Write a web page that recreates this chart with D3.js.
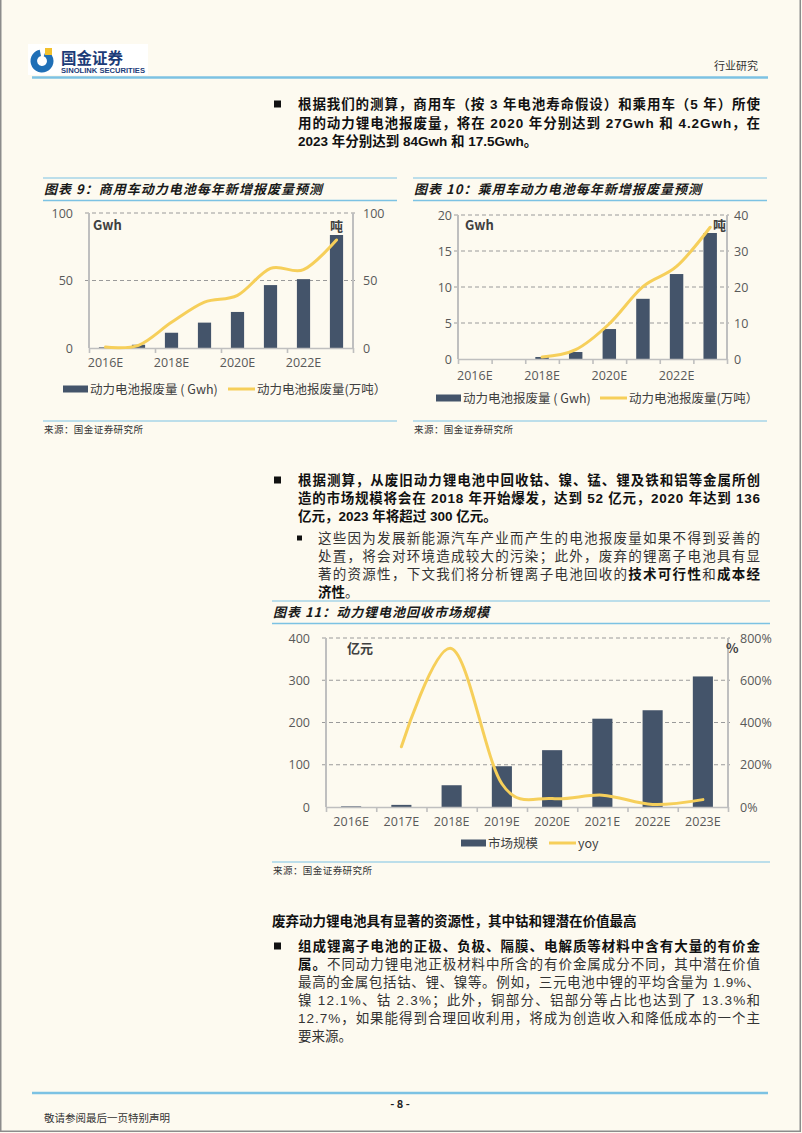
<!DOCTYPE html>
<html>
<head>
<meta charset="utf-8">
<script src="https://cdn.jsdelivr.net/npm/d3@7"></script>
<style>
  body { margin: 0; background: #fdfaf0; }
  svg text { font-family: "Noto Sans CJK SC", "Liberation Sans", sans-serif; }
</style>
</head>
<body>
<svg id="page" width="802" height="1133"></svg>
<script>
// chart data
var years = ["2016E", "2017E", "2018E", "2019E", "2020E", "2021E", "2022E", "2023E"];

// 图表9 商用车
var cvGwh = [0.5, 2.4, 11.3, 18.8, 26.7, 46.6, 51, 83.7];
var cvTonnes = [0.7, 2, 19, 34, 39, 59, 58, 80];
var cvLeftTicks = [0, 50, 100];
var cvRightTicks = [0, 50, 100];

// 图表10 乘用车
var pvGwh = [0, 0, 0.28, 0.97, 4.16, 8.36, 11.8, 17.5];
var pvTonnes = [null, null, 0.55, 2.6, 9.8, 20.1, 25.7, 36.6];
var pvLeftTicks = [0, 5, 10, 15, 20];
var pvRightTicks = [0, 10, 20, 30, 40];

// 图表11 回收市场规模
var marketSize = [1.5, 5, 51.5, 96.5, 134.5, 209, 229, 309];
var marketYoy = [null, 285, 750, 110, 40, 56, 12, 35];
var mkLeftTicks = [0, 100, 200, 300, 400];
var mkRightTicks = [0, 200, 400, 600, 800];

var barColor = "#44546a";
var lineColor = "#f6cf5a";
var blue = "#7cc2e3";
var axisFont = "'Open Sans', 'Noto Sans', sans-serif";
var bodyFont = "'Liberation Sans', 'Noto Sans CJK SC', sans-serif";

var svg = d3.select("#page");

svg.append("rect").attr("width", 802).attr("height", 1133).attr("fill", "#fdfaf0");
svg.append("path")
    .attr("d", "M0.75,0V1131.25H800.25V0")
    .attr("fill", "none")
    .attr("stroke", "#8c8c8c")
    .attr("stroke-width", 1.5);

// header
svg.append("rect").attr("x", 28).attr("y", 44).attr("width", 120).attr("height", 31).attr("fill", "#ffffff");
svg.append("path")
    .attr("d", d3.arc()({innerRadius: 5, outerRadius: 11.5, startAngle: 0.35, endAngle: 2 * Math.PI - 0.2}))
    .attr("transform", "translate(42,61)")
    .attr("fill", "#1f6fb6");
svg.append("rect").attr("x", 45).attr("y", 48).attr("width", 7).attr("height", 7).attr("fill", "#f2c12e");
svg.append("text").attr("x", 61).attr("y", 64).text("国金证券")
    .attr("font-size", 15.5).attr("font-weight", "bold").attr("fill", "#1c3c78");
svg.append("text").attr("x", 61).attr("y", 73).text("SINOLINK SECURITIES")
    .attr("font-size", 6.4).attr("font-weight", "bold").attr("fill", "#1c3c78")
    .attr("textLength", 84).attr("lengthAdjust", "spacingAndGlyphs")
    .style("font-family", "'Liberation Sans', sans-serif");
svg.append("text").attr("x", 758).attr("y", 70).attr("text-anchor", "end").text("行业研究")
    .attr("font-size", 11).attr("fill", "#333");
hline(32, 768, 77.5, 2.5);

// footer
hline(32, 768, 1093, 2.5);
svg.append("text").attr("x", 400).attr("y", 1108).attr("text-anchor", "middle").text("- 8 -")
    .attr("font-size", 11).attr("font-weight", "bold").attr("fill", "#222");
svg.append("text").attr("x", 44).attr("y", 1122).text("敬请参阅最后一页特别声明")
    .attr("font-size", 10.5).attr("fill", "#333");

function hline(x1, x2, y, w) {
  svg.append("line").attr("x1", x1).attr("x2", x2).attr("y1", y).attr("y2", y)
      .attr("stroke", blue).attr("stroke-width", w);
}

// one line of body text; parts = [[string, bold], ...]
// justified lines get letter-spacing so they fill the width
function textLine(x, y, parts, width) {
  var t = svg.append("text").attr("x", x).attr("y", y)
      .attr("font-size", 13.5).style("font-family", bodyFont);
  parts.forEach(function(p) {
    t.append("tspan").text(p[0]).attr("font-weight", p[1] ? "bold" : "normal")
        .attr("fill", p[1] ? "#111" : "#333");
  });
  if (width) {
    var natural = t.node().getComputedTextLength();
    var n = d3.sum(parts, function(p) { return p[0].length; });
    t.attr("letter-spacing", ((width - natural) / (n - 1)).toFixed(3));
  }
  return t;
}

function bullet(x, cy, s) {
  svg.append("rect").attr("x", x).attr("y", cy - s / 2).attr("width", s).attr("height", s).attr("fill", "#111");
}

// paragraph 1
bullet(274, 104, 7);
textLine(298, 109, [["根据我们的测算，商用车（按 3 年电池寿命假设）和乘用车（5 年）所使", 1]], 462);
textLine(298, 127.5, [["用的动力锂电池报废量，将在 2020 年分别达到 27Gwh 和 4.2Gwh，在", 1]], 462);
textLine(298, 146, [["2023 年分别达到 84Gwh 和 17.5Gwh。", 1]]);

// paragraph 2
bullet(274, 480, 7);
textLine(298, 485, [["根据测算，从废旧动力锂电池中回收钴、镍、锰、锂及铁和铝等金属所创", 1]], 462);
textLine(298, 503, [["造的市场规模将会在 2018 年开始爆发，达到 52 亿元，2020 年达到 136", 1]], 462);
textLine(298, 521, [["亿元，2023 年将超过 300 亿元。", 1]]);
bullet(297, 538, 5);
textLine(318, 542.5, [["这些因为发展新能源汽车产业而产生的电池报废量如果不得到妥善的", 0]], 442);
textLine(318, 560.5, [["处置，将会对环境造成较大的污染；此外，废弃的锂离子电池具有显", 0]], 442);
textLine(318, 578.5, [["著的资源性，下文我们将分析锂离子电池回收的", 0], ["技术可行性", 1], ["和", 0], ["成本经", 1]], 442);
textLine(318, 596.5, [["济性", 1], ["。", 0]]);

// section heading + paragraph 3
textLine(272, 926, [["废弃动力锂电池具有显著的资源性，其中钴和锂潜在价值最高", 1]]);
bullet(274, 946, 7);
textLine(298, 951, [["组成锂离子电池的正极、负极、隔膜、电解质等材料中含有大量的有价金", 1]], 462);
textLine(298, 969, [["属。", 1], ["不同动力锂电池正极材料中所含的有价金属成分不同，其中潜在价值", 0]], 462);
textLine(298, 987, [["最高的金属包括钴、锂、镍等。例如，三元电池中锂的平均含量为 1.9%、", 0]], 462);
textLine(298, 1005, [["镍 12.1%、钴 2.3%；此外，铜部分、铝部分等占比也达到了 13.3%和", 0]], 462);
textLine(298, 1023, [["12.7%，如果能得到合理回收利用，将成为创造收入和降低成本的一个主", 0]], 462);
textLine(298, 1041, [["要来源。", 0]]);

// chart frame: title block, source line
function chartFrame(f) {
  hline(f.x1, f.x2, f.top, 1.2);
  svg.append("text").attr("x", f.x1 + 1).attr("y", f.top + 16).text(f.title)
      .attr("font-size", 13).attr("font-weight", "bold").attr("font-style", "italic")
      .attr("fill", "#1a1a1a")
      .attr("textLength", f.titleLen).attr("lengthAdjust", "spacing");
  hline(f.x1, f.x2, f.top + 22.5, 1.6);
  hline(f.x1, f.x2, f.src, 1.2);
  svg.append("text").attr("x", f.x1 + 1).attr("y", f.src + 11.5).text("来源：国金证券研究所")
      .attr("font-size", 9.5).attr("fill", "#333")
      .attr("textLength", 99).attr("lengthAdjust", "spacing");
}

function drawChart(c) {
  var g = svg.append("g");
  var xb = d3.scaleBand().domain(years).range([c.x0, c.x1]);
  var xi = d3.scaleLinear().domain([0, years.length]).range([c.x0, c.x1]);
  var yl = d3.scaleLinear().domain(c.leftDomain).range([c.yBot, c.yTop]);
  var yr = d3.scaleLinear().domain(c.rightDomain).range([c.yBot, c.yTop]);
  var bw = xb.bandwidth() * 0.4;

  // dashed gridlines
  g.append("g").selectAll("line")
      .data(c.leftTicks.filter(function(d) { return d > 0; }))
      .enter().append("line")
      .attr("x1", c.x0 - 4).attr("x2", c.x1 + 2)
      .attr("y1", function(d) { return yl(d); })
      .attr("y2", function(d) { return yl(d); })
      .attr("stroke", "#9a9a9a").attr("stroke-width", 1)
      .attr("stroke-dasharray", "4,3");

  // bars
  g.append("g").selectAll("rect")
      .data(c.bars)
      .enter().append("rect")
      .attr("x", function(d, i) { return xb(years[i]) + (xb.bandwidth() - bw) / 2; })
      .attr("y", function(d) { return yl(d); })
      .attr("width", bw)
      .attr("height", function(d) { return c.yBot - yl(d); })
      .attr("fill", barColor);

  // vertical axes
  [c.x0, c.x1].forEach(function(x) {
    g.append("line").attr("x1", x).attr("x2", x).attr("y1", c.yTop).attr("y2", c.yBot)
        .attr("stroke", "#bfbfbf").attr("stroke-width", 2);
  });

  // zero line with boundary ticks
  var xaxis = g.append("g").attr("transform", "translate(0," + c.yBot + ")")
      .call(d3.axisBottom(xi).tickValues(d3.range(0, years.length + 1, c.tickEvery))
          .tickSize(5).tickSizeOuter(0).tickFormat(""));
  xaxis.selectAll("path, line").attr("stroke", "#bfbfbf").attr("stroke-width", 1.6);

  // category labels
  var xlab = g.append("g").attr("transform", "translate(0," + c.yBot + ")")
      .call(d3.axisBottom(xb).tickSize(0).tickPadding(c.xPad)
          .tickFormat(function(d, i) { return i % c.labelEvery ? "" : d; }));
  xlab.select(".domain").remove();

  // value labels
  var left = g.append("g").attr("transform", "translate(" + c.x0 + ",0)")
      .call(d3.axisLeft(yl).tickValues(c.leftTicks).tickSize(0).tickPadding(c.leftPad));
  left.select(".domain").remove();
  var right = g.append("g").attr("transform", "translate(" + c.x1 + ",0)")
      .call(d3.axisRight(yr).tickValues(c.rightTicks).tickSize(0).tickPadding(c.rightPad)
          .tickFormat(c.rightFormat || function(d) { return d; }));
  right.select(".domain").remove();

  g.selectAll(".tick text")
      .attr("fill", "#595959").attr("font-size", 12.5)
      .style("font-family", axisFont);

  // line series
  var pts = c.line.map(function(v, i) { return {year: years[i], v: v}; });
  var line = d3.line()
      .defined(function(d) { return d.v != null; })
      .x(function(d) { return xb(d.year) + xb.bandwidth() / 2; })
      .y(function(d) { return yr(d.v); })
      .curve(d3.curveCardinal.tension(0));
  g.append("path").datum(pts).attr("d", line)
      .attr("fill", "none").attr("stroke", lineColor).attr("stroke-width", 3)
      .attr("stroke-linecap", "round");

  // unit labels
  g.append("text").attr("x", c.unitL[0]).attr("y", c.unitL[1]).text(c.unitL[2])
      .attr("font-size", 13).attr("font-weight", "bold").attr("fill", "#404040");
  g.append("text").attr("x", c.unitR[0]).attr("y", c.unitR[1]).text(c.unitR[2])
      .attr("font-size", 13).attr("font-weight", "bold").attr("fill", "#404040");

  // legend
  var ly = c.legend.y;
  g.append("rect").attr("x", c.legend.bx).attr("y", ly - 3.5).attr("width", 25).attr("height", 7)
      .attr("fill", barColor);
  g.append("text").attr("x", c.legend.bx + 27).attr("y", ly + 4.5).text(c.legend.bar)
      .attr("font-size", 12.5).attr("fill", "#404040");
  g.append("line").attr("x1", c.legend.lx).attr("x2", c.legend.lx + 27).attr("y1", ly).attr("y2", ly)
      .attr("stroke", lineColor).attr("stroke-width", 3);
  g.append("text").attr("x", c.legend.lx + 29).attr("y", ly + 4.5).text(c.legend.line)
      .attr("font-size", 12.5).attr("fill", "#404040");
}

chartFrame({x1: 43, x2: 397, top: 178, src: 421, titleLen: 278,
  title: "图表 9：商用车动力电池每年新增报废量预测"});
drawChart({
  x0: 89, x1: 353, yTop: 213, yBot: 348,
  leftDomain: [0, 100], rightDomain: [0, 100],
  leftTicks: cvLeftTicks, rightTicks: cvRightTicks,
  leftPad: 16, rightPad: 10, xPad: 10, labelEvery: 2, tickEvery: 2,
  bars: cvGwh, line: cvTonnes,
  unitL: [93, 230, "Gwh"], unitR: [330, 231, "吨"],
  legend: {y: 389, bx: 63, lx: 228, bar: "动力电池报废量 ( Gwh)", line: "动力电池报废量(万吨）"}
});

chartFrame({x1: 413, x2: 767, top: 178, src: 421, titleLen: 287,
  title: "图表 10：乘用车动力电池每年新增报废量预测"});
drawChart({
  x0: 458, x1: 727, yTop: 215, yBot: 359,
  leftDomain: [0, 20], rightDomain: [0, 40],
  leftTicks: pvLeftTicks, rightTicks: pvRightTicks,
  leftPad: 6, rightPad: 7, xPad: 12, labelEvery: 2, tickEvery: 1,
  bars: pvGwh, line: pvTonnes,
  unitL: [465, 230, "Gwh"], unitR: [713, 230, "吨"],
  legend: {y: 398, bx: 436, lx: 600, bar: "动力电池报废量 ( Gwh)", line: "动力电池报废量(万吨）"}
});

chartFrame({x1: 272, x2: 770, top: 601, src: 862, titleLen: 216,
  title: "图表 11：动力锂电池回收市场规模"});
drawChart({
  x0: 326, x1: 728, yTop: 638, yBot: 807,
  leftDomain: [0, 400], rightDomain: [0, 800],
  leftTicks: mkLeftTicks, rightTicks: mkRightTicks,
  rightFormat: function(d) { return d + "%"; },
  leftPad: 16, rightPad: 12, xPad: 10, labelEvery: 1, tickEvery: 1,
  bars: marketSize, line: marketYoy,
  unitL: [347, 653, "亿元"], unitR: [726, 653, "%"],
  legend: {y: 843, bx: 461, lx: 549, bar: "市场规模", line: "yoy"}
});
</script>
</body>
</html>
